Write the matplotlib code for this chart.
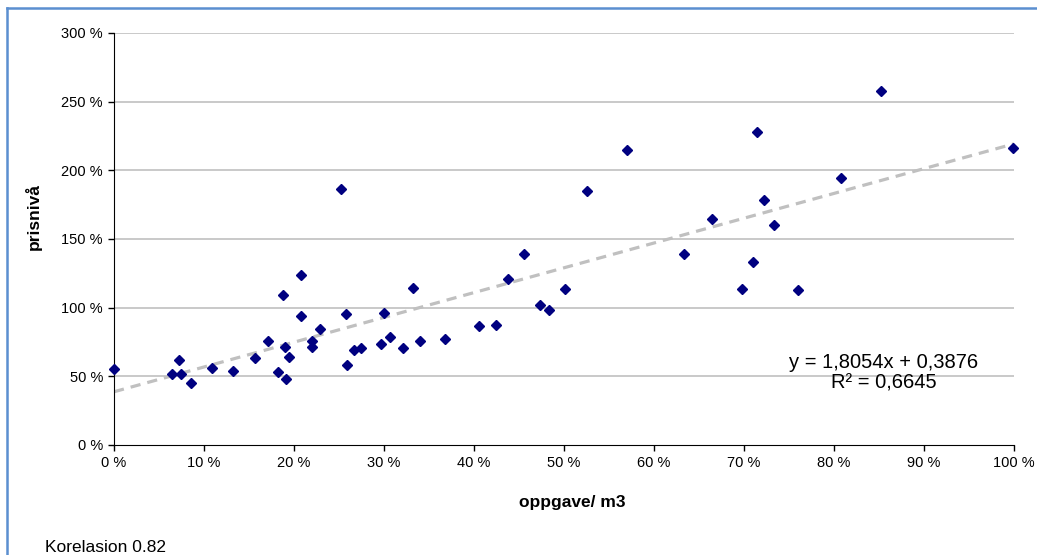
import matplotlib.pyplot as plt
import matplotlib.lines as mlines
import numpy as np

plt.rcParams["font.family"] = ["Liberation Sans", "DejaVu Sans"]

# Data (percent)
oppgave = [
    0.0, 6.4, 7.2, 7.4, 8.6, 10.9, 13.2, 15.7, 17.1, 18.2,
    18.8, 19.1, 19.0, 19.4, 20.8, 20.8, 22.0, 22.0, 22.9, 25.2,
    25.8, 25.9, 26.7, 27.4, 29.7, 30.0, 30.7, 32.1, 33.2, 34.0,
    36.8, 40.5, 42.4, 43.8, 45.6, 47.3, 48.3, 50.1, 52.5, 57.0,
    63.3, 66.4, 71.4, 72.2, 73.3, 71.0, 69.8, 76.0, 80.8, 85.2,
    99.9,
]
prisniva = [
    55.3, 51.7, 61.9, 51.7, 45.2, 56.1, 53.9, 63.4, 75.7, 53.2,
    109.2, 48.1, 71.2, 64.1, 123.8, 94.2, 76.0, 71.4, 84.3, 186.2,
    95.2, 58.0, 69.0, 70.6, 73.8, 95.9, 78.9, 70.4, 114.1, 75.5,
    77.0, 86.9, 87.4, 121.1, 138.9, 102.0, 98.3, 113.8, 184.8, 214.6,
    139.1, 164.4, 228.2, 178.4, 160.2, 133.5, 113.4, 113.1, 194.5, 257.8,
    216.3,
]
slope = 1.8054
intercept = 0.3876
x_ticks = np.arange(0, 101, 10)
y_ticks = np.arange(0, 301, 50)

fig = plt.figure(figsize=(10.37, 5.55), dpi=100)
ax = fig.add_axes([114 / 1037, 1 - 445 / 555, 900 / 1037, 412 / 555])

# Grid
for y in y_ticks[1:]:
    ax.axhline(y, color="#c0c0c0", lw=1.2, zorder=0)

# Trendline
tx = np.array([0, 100])
ax.plot(tx, (slope * tx / 100 + intercept) * 100, color="#c0c0c0", lw=2.3,
        linestyle=(0, (3.2, 2.2)), zorder=1)

# Points
ax.plot(oppgave, prisniva, linestyle="none", marker="D", ms=4.8,
        color="#000080", zorder=3, clip_on=False)

ax.set_xlim(0, 100)
ax.set_ylim(0, 300)
ax.set_xticks(x_ticks)
ax.set_xticklabels([f"{v} %" for v in x_ticks], fontsize=10.5)
ax.set_yticks(y_ticks)
ax.set_yticklabels([f"{v} %" for v in y_ticks], fontsize=10.5)
ax.tick_params(direction="out", length=4, width=1, color="black", pad=4)

ax.spines["top"].set_visible(False)
ax.spines["right"].set_visible(False)
ax.spines["left"].set_color("black")
ax.spines["bottom"].set_color("black")

# Axis titles
fig.text(572 / 1037, 1 - 502 / 555, "oppgave/ m3", fontsize=12.5,
         fontweight="bold", ha="center", va="center")
fig.text(33 / 1037, 1 - 216 / 555, "prisnivå", fontsize=12.5,
         fontweight="bold", ha="center", va="center", rotation=90)

# Equation
fig.text(884 / 1037, 1 - 362 / 555, "y = 1,8054x + 0,3876", fontsize=14.5,
         ha="center", va="center")
fig.text(884 / 1037, 1 - 383 / 555, "R² = 0,6645", fontsize=14.5,
         ha="center", va="center")
fig.text(45 / 1037, 1 - 547 / 555, "Korelasion 0.82", fontsize=12.5,
         ha="left", va="center")

# Chart border
border_col = "#5b8fd0"
fig.add_artist(mlines.Line2D([7 / 1037, 7 / 1037], [0, 1 - 8 / 555],
                             transform=fig.transFigure, color=border_col, lw=1.8))
fig.add_artist(mlines.Line2D([7 / 1037, 1], [1 - 8 / 555, 1 - 8 / 555],
                             transform=fig.transFigure, color=border_col, lw=1.8))

fig.savefig("out.png", dpi=100)
